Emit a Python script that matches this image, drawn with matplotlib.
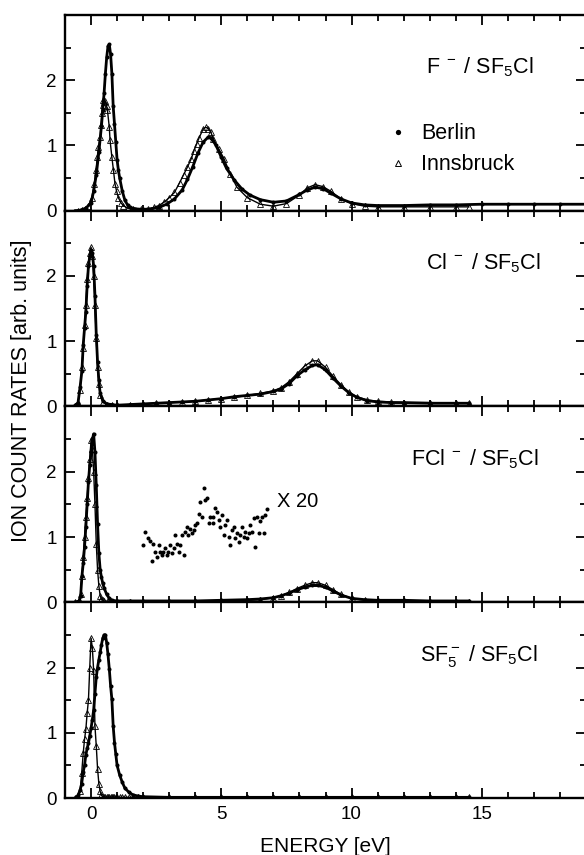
import matplotlib
matplotlib.use("Agg")
import matplotlib.pyplot as plt
from matplotlib.lines import Line2D
from matplotlib.ticker import MultipleLocator

plt.rcParams["font.family"] = ["Liberation Sans", "DejaVu Sans"]
plt.rcParams["mathtext.fontset"] = "custom"
plt.rcParams["mathtext.rm"] = "Liberation Sans"
plt.rcParams["mathtext.it"] = "Liberation Sans:italic"

# ---- panel 1: F- / SF5Cl ----
F_BER_E = [-0.6, -0.4, -0.2, 0.0, 0.1, 0.2, 0.3, 0.4, 0.45, 0.5, 0.55, 0.6, 0.65, 0.7, 0.75, 0.8,
           0.85, 0.9, 0.95, 1.0, 1.05, 1.1, 1.2, 1.3, 1.4, 1.5, 1.7, 2.0, 2.3, 2.6, 2.9, 3.2, 3.5,
           3.7, 3.9, 4.1, 4.3, 4.5, 4.6, 4.8, 5.0, 5.2, 5.5, 5.8, 6.1, 6.5, 7.0, 7.5, 8.0, 8.3,
           8.6, 8.9, 9.2, 9.6, 10.0, 10.5, 11.0, 12.0, 13.0, 14.0, 15.0, 16.0, 17.0, 18.0, 19.0]
F_BER_Y = [0.0, 0.01, 0.04, 0.12, 0.3, 0.55, 0.9, 1.3, 1.55, 1.8, 2.1, 2.35, 2.52, 2.55, 2.4, 2.1,
           1.6, 1.33, 1.05, 0.78, 0.62, 0.5, 0.3, 0.16, 0.09, 0.05, 0.03, 0.02, 0.03, 0.05, 0.1,
           0.18, 0.32, 0.48, 0.67, 0.88, 1.05, 1.13, 1.12, 1.0, 0.82, 0.65, 0.47, 0.33, 0.24, 0.17,
           0.13, 0.15, 0.25, 0.32, 0.36, 0.34, 0.27, 0.18, 0.12, 0.09, 0.08, 0.08, 0.09, 0.09, 0.1,
           0.1, 0.1, 0.1, 0.1]
F_INN_E = [-0.5, -0.35, -0.25, -0.1, 0.03, 0.12, 0.19, 0.24, 0.28, 0.35, 0.38, 0.42, 0.45, 0.47,
           0.5, 0.55, 0.6, 0.63, 0.7, 0.73, 0.8, 0.86, 0.92, 0.98, 1.05, 1.15, 1.24, 1.4, 1.6, 1.9,
           2.2, 2.4, 2.6, 2.8, 3.0, 3.2, 3.4, 3.55, 3.7, 3.85, 3.95, 4.05, 4.15, 4.3, 4.4, 4.5, 4.6,
           4.7, 4.9, 5.1, 5.35, 5.6, 6.0, 6.5, 7.0, 7.5, 8.0, 8.3, 8.6, 8.9, 9.2, 9.6, 10.0, 10.5,
           11.0, 12.0, 13.0, 14.0, 14.5]
F_INN_Y = [0.0, 0.01, 0.02, 0.08, 0.2, 0.41, 0.62, 0.82, 0.97, 1.13, 1.31, 1.5, 1.69, 1.62, 1.66,
           1.68, 1.6, 1.54, 1.28, 1.08, 0.82, 0.62, 0.41, 0.3, 0.2, 0.12, 0.08, 0.04, 0.02, 0.02,
           0.02, 0.05, 0.08, 0.13, 0.2, 0.28, 0.43, 0.55, 0.67, 0.8, 0.92, 1.02, 1.12, 1.25, 1.28,
           1.26, 1.2, 1.1, 0.95, 0.8, 0.56, 0.36, 0.2, 0.1, 0.07, 0.11, 0.24, 0.35, 0.4, 0.37, 0.3,
           0.18, 0.11, 0.07, 0.06, 0.06, 0.06, 0.06, 0.06]

# ---- panel 2: Cl- / SF5Cl ----
CL_E = [-0.6, -0.5, -0.42, -0.35, -0.3, -0.25, -0.2, -0.15, -0.1, -0.05, 0.0, 0.05, 0.1, 0.15,
        0.2, 0.25, 0.3, 0.35, 0.45, 0.6, 0.8, 1.0, 1.5, 2.0, 2.5, 3.0, 3.5, 4.0, 4.5, 5.0, 5.5,
        6.0, 6.5, 7.0, 7.3, 7.6, 7.9, 8.2, 8.5, 8.7, 9.0, 9.3, 9.6, 9.9, 10.2, 10.6, 11.0, 11.5,
        12.0, 13.0, 14.0, 14.5]
CL_BER_Y = [0.02, 0.06, 0.3, 0.55, 0.95, 1.2, 1.45, 1.85, 2.15, 2.3, 2.4, 2.35, 2.15, 1.7, 1.1,
            0.68, 0.4, 0.2, 0.09, 0.04, 0.03, 0.02, 0.03, 0.04, 0.05, 0.06, 0.07, 0.08, 0.1, 0.12,
            0.15, 0.17, 0.19, 0.23, 0.27, 0.35, 0.47, 0.56, 0.63, 0.64, 0.56, 0.43, 0.31, 0.21,
            0.14, 0.09, 0.07, 0.06, 0.06, 0.05, 0.05, 0.05]
CL_INN_Y = [0.01, 0.05, 0.25, 0.6, 0.9, 1.25, 1.55, 1.95, 2.2, 2.35, 2.44, 2.3, 2.0, 1.55, 1.05,
            0.6, 0.35, 0.18, 0.07, 0.03, 0.02, 0.02, 0.03, 0.04, 0.05, 0.06, 0.07, 0.08, 0.1, 0.12,
            0.14, 0.17, 0.2, 0.24, 0.29, 0.38, 0.5, 0.62, 0.7, 0.7, 0.6, 0.46, 0.33, 0.22, 0.15,
            0.1, 0.08, 0.07, 0.06, 0.06, 0.05, 0.05]

# ---- panel 3: FCl- / SF5Cl ----
FCL_E = [-0.6, -0.45, -0.4, -0.35, -0.3, -0.25, -0.2, -0.15, -0.1, -0.05, 0.0, 0.05, 0.1, 0.15,
         0.2, 0.25, 0.3, 0.35, 0.4, 0.45, 0.5, 0.6, 0.7, 0.8, 1.0, 1.5, 2.0, 3.0, 4.0, 5.0, 6.0,
         6.5, 7.0, 7.3, 7.6, 7.9, 8.2, 8.5, 8.7, 9.0, 9.3, 9.6, 10.0, 10.5, 11.0, 12.0, 13.0,
         14.0, 14.5]
FCL_BER_Y = [0.0, 0.02, 0.1, 0.4, 0.6, 0.85, 1.15, 1.5, 1.85, 2.1, 2.3, 2.5, 2.58, 2.3, 1.8, 1.2,
             0.75, 0.5, 0.38, 0.29, 0.22, 0.12, 0.06, 0.03, 0.02, 0.02, 0.02, 0.02, 0.02, 0.03,
             0.04, 0.05, 0.07, 0.1, 0.14, 0.19, 0.23, 0.26, 0.26, 0.23, 0.17, 0.11, 0.06, 0.04,
             0.03, 0.03, 0.02, 0.02, 0.02]
FCL_INN_Y = [0.0, 0.03, 0.12, 0.4, 0.7, 1.0, 1.3, 1.6, 1.9, 2.2, 2.48, 2.35, 2.0, 1.5, 0.9, 0.5,
             0.25, 0.1, 0.05, 0.03, 0.02, 0.01, 0.01, 0.01, 0.01, 0.01, 0.01, 0.01, 0.02, 0.02,
             0.03, 0.04, 0.07, 0.1, 0.15, 0.21, 0.26, 0.3, 0.3, 0.26, 0.19, 0.12, 0.06, 0.03, 0.02,
             0.02, 0.01, 0.01, 0.01]
# Berlin data magnified x20
X20_E = [2.01, 2.08, 2.18, 2.27, 2.33, 2.36, 2.46, 2.53, 2.59, 2.65, 2.72, 2.78, 2.85, 2.91, 2.97,
         3.04, 3.10, 3.17, 3.23, 3.29, 3.36, 3.42, 3.49, 3.55, 3.62, 3.68, 3.74, 3.81, 3.87, 3.94,
         4.00, 4.06, 4.15, 4.19, 4.26, 4.32, 4.38, 4.45, 4.51, 4.58, 4.67, 4.70, 4.77, 4.83, 4.90,
         4.96, 5.03, 5.09, 5.13, 5.22, 5.28, 5.35, 5.41, 5.47, 5.54, 5.60, 5.67, 5.73, 5.80, 5.86,
         5.92, 5.99, 6.05, 6.12, 6.18, 6.24, 6.31, 6.37, 6.44, 6.50, 6.56, 6.63, 6.69, 6.77]
X20_Y = [0.87, 1.07, 0.98, 0.94, 0.63, 0.90, 0.77, 0.70, 0.88, 0.77, 0.72, 0.77, 0.83, 0.72, 0.77,
         0.88, 0.75, 0.83, 1.03, 0.90, 0.77, 0.88, 1.03, 0.73, 1.08, 1.16, 1.03, 1.13, 1.06, 1.11,
         1.18, 1.21, 1.36, 1.54, 1.31, 1.75, 1.57, 1.60, 1.21, 1.31, 1.31, 1.21, 1.44, 1.39, 1.26,
         1.16, 1.34, 1.03, 1.18, 1.26, 1.00, 0.88, 1.11, 1.16, 0.98, 1.06, 0.93, 1.03, 1.16, 1.00,
         1.08, 0.98, 1.06, 1.18, 1.08, 1.29, 0.85, 1.31, 1.06, 1.24, 1.31, 1.06, 1.34, 1.43]

# ---- panel 4: SF5- / SF5Cl ----
SF5_E = [-0.6, -0.5, -0.42, -0.36, -0.3, -0.25, -0.2, -0.15, -0.1, -0.05, 0.0, 0.05, 0.1, 0.15,
         0.2, 0.25, 0.3, 0.35, 0.4, 0.45, 0.5, 0.55, 0.6, 0.65, 0.7, 0.75, 0.8, 0.85, 0.9, 0.95,
         1.0, 1.1, 1.2, 1.3, 1.45, 1.6, 1.8, 2.0, 3.0, 4.0, 5.0, 6.0, 7.0, 8.0, 9.0, 10.0, 11.0,
         12.0, 13.0, 14.0, 14.5]
SF5_BER_Y = [0.0, 0.04, 0.12, 0.22, 0.4, 0.5, 0.66, 0.76, 0.84, 0.95, 1.07, 1.2, 1.35, 1.6, 1.85,
             2.0, 2.12, 2.23, 2.35, 2.45, 2.5, 2.5, 2.38, 2.2, 1.98, 1.72, 1.51, 1.1, 0.85, 0.67,
             0.5, 0.35, 0.24, 0.15, 0.09, 0.05, 0.03, 0.02, 0.01, 0.01, 0.01, 0.01, 0.01, 0.01,
             0.01, 0.01, 0.01, 0.01, 0.01, 0.01, 0.01]
SF5_INN_Y = [0.0, 0.02, 0.1, 0.38, 0.69, 0.9, 1.05, 1.3, 1.5, 2.0, 2.45, 2.3, 1.95, 1.1, 0.8, 0.45,
             0.22, 0.1, 0.04, 0.02, 0.01, 0.01, 0.01, 0.01, 0.01, 0.01, 0.01, 0.01, 0.01, 0.01,
             0.01, 0.01, 0.01, 0.01, 0.01, 0.01, 0.01, 0.01, 0.01, 0.01, 0.01, 0.01, 0.01, 0.01,
             0.01, 0.01, 0.01, 0.01, 0.01, 0.01, 0.01]

PANELS = [
    (F_BER_E, F_BER_Y, F_INN_E, F_INN_Y, r"F$^{\ -}$ / SF$_5$Cl", 17.0),
    (CL_E, CL_BER_Y, CL_E, CL_INN_Y, r"Cl$^{\ -}$ / SF$_5$Cl", 17.25),
    (FCL_E, FCL_BER_Y, FCL_E, FCL_INN_Y, r"FCl$^{\ -}$ / SF$_5$Cl", 17.2),
    (SF5_E, SF5_BER_Y, SF5_E, SF5_INN_Y, r"SF$_5^-$ / SF$_5$Cl", 17.15),
]

W, H = 584, 855
fig = plt.figure(figsize=(W / 100, H / 100), dpi=100)

left, right, top, bottom = 65, 586, 15, 798
ph = (bottom - top) / 4
axes = []
for i, (be, by, ie, iy, label, lx) in enumerate(PANELS):
    y0 = H - top - (i + 1) * ph
    ax = fig.add_axes([left / W, y0 / H, (right - left) / W, ph / H])
    ax.plot(be, by, "-", color="k", lw=2.0, marker="o", ms=2.9, mec="k", mfc="k", mew=0)
    ax.plot(ie, iy, "-", color="k", lw=1.0, marker="^", ms=3.8, mfc="none", mec="k", mew=0.6)
    ax.set_xlim(-1, 19)
    ax.set_ylim(0, 3)
    ax.xaxis.set_major_locator(MultipleLocator(5))
    ax.xaxis.set_minor_locator(MultipleLocator(1))
    ax.set_yticks([0, 1, 2])
    ax.yaxis.set_minor_locator(MultipleLocator(0.5))
    ax.tick_params(which="both", direction="in", top=True, right=True, width=1.3,
                   labelsize=13.5, pad=6)
    ax.tick_params(which="major", length=7.5)
    ax.tick_params(which="minor", length=4.2)
    for s in ax.spines.values():
        s.set_linewidth(1.7)
    if i < 3:
        ax.tick_params(labelbottom=False)
    ax.text(lx, 2.1, label, ha="right", va="baseline", fontsize=15.5)
    axes.append(ax)

# x20 magnified Berlin points in the FCl- panel
axes[2].plot(X20_E, X20_Y, "o", color="k", ms=2.9, mew=0)
axes[2].text(7.15, 1.46, "X 20", ha="left", va="baseline", fontsize=14.5)

handles = [Line2D([], [], ls="none", marker="o", ms=3.8, color="k", mew=0),
           Line2D([], [], ls="none", marker="^", ms=4.2, mfc="none", mec="k", mew=0.7)]
axes[0].legend(handles, ["Berlin", "Innsbruck"], loc="upper left",
               bbox_to_anchor=(0.622, 0.446), frameon=False, fontsize=15.5,
               borderpad=0, borderaxespad=0, handlelength=0.8, handletextpad=0.7,
               labelspacing=0.45)

axes[3].set_xlabel("ENERGY [eV]", fontsize=15, labelpad=10)
fig.text(22 / W, 1 - 391 / H, "ION COUNT RATES [arb. units]", rotation=90,
         ha="center", va="center", fontsize=15.5)

fig.savefig("out.png", dpi=100)
